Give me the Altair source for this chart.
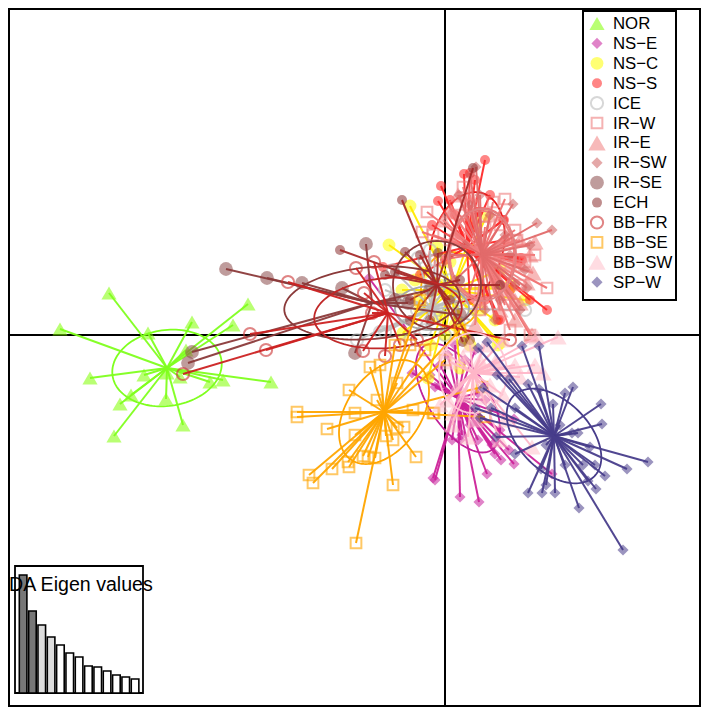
import math
import altair as alt
import pandas as pd

names = ["NOR","NS−E","NS−C","NS−S","ICE","IR−W","IR−E","IR−SW","IR−SE","ECH","BB−FR","BB−SE","BB−SW","SP−W"]
shapes = ["triangle-up","diamond","circle","circle","circle","square","triangle-up","diamond","circle","circle","circle","square","triangle-up","diamond"]
filled = [True,True,True,True,False,False,True,True,True,True,False,False,True,True]
sizes = [230,125,165,100,150,115,300,125,190,100,150,115,300,125]
line_col = ["#7FFF1E","#CC2299","#FFE800","#FF2A2A","#BEBEBE","#F07070","#F07F7F","#E26A6A","#8B3A3A","#A52A2A","#CC2222","#FFA500","#FFB6C8","#483D8B"]
pt_col = ["#7FFF00","#C71E9A","#FFFF00","#FF2020","#BEBEBE","#F08080","#F08080","#CD6060","#8B4A4A","#8B3030","#CC3333","#FFA500","#FFC0CB","#483D8B"]
ell_col = ["#7FFF1E","#C0209A","#FFB000","#E81818","#A8A8A8","#F07070","#F07F7F","#E08080","#8B3A3A","#8B3A3A","#C02828","#FFA500","#FFC6D4","#483D8B"]

centres = [(167,368),(458,398),(452,290),(467,247),(432,308),(482,253),(482,255),(482,255),(372,303),(437,285),(388,313),(384,412),(473,373),(554,436)]
# ellipse: semi-major, semi-minor, tilt (degrees, anticlockwise)
ell_a = [55,62,38,56,37,45,44,46,88,44,74,58,40,57]
ell_b = [38,30,31,36,22,33,32,34,36,44,35,37,34,35]
ell_t = [8,-57,90,75,0,90,90,90,5,0,5,55,90,-45]

x_pts = [
 [109,60,148,192,248,233,186,90,144,167,180,210,223,271,131,120,166,183,114],
 [435,433,460,479,487,514,501,495,509,552,460,514,369,412,435,478,440,470,485,500,440,478,448,455,465,430,475,492,452,462],
 [410,389,487,475,510,500,460,498,402,403,440,423,437,435,420,470,510,525,420,428,445,455,465,415,480,495,430,440,500,450],
 [485,464,470,441,438,432,478,504,521,547,522,500,503,383,518,477,475,498,510,450,460,490,530,445,495,470,420,505,485,455],
 [525,385,357,380,418,430,417,437,457,393,440,460,400,470,450,410,425,445,385,435],
 [427,422,433,493,505,515,517,463,485,547,510,530,495,525,470,505,450,440,520,500,460,480,535,470],
 [535,533,525,452,458,532,450,443,507,527,520,498,510,515,480,470,500,530,490,505,520,455,515,475],
 [552,537,513,476,459,527,465,490,510,515,520,450,500,470,470,525,505,485,455,495,530,480],
 [226,267,302,342,192,188,366,355,408,430,395,460],
 [340,402,473,405,395,463,438,420,450,460,500,430,410,410,470,385],
 [288,250,266,183,356,374,364,372,363,385,510,417,400],
 [297,297,349,327,355,370,380,377,397,355,386,393,404,397,416,393,356,309,313,332,349,348,363,368,375,434,413,433,485,482,410,425,395,445,460,420],
 [558,535,520,532,497,452,468,543,503,445,450,483,480,463,503,463,483,453,495,537,515,470,490,458,505,440,475,500,485,448],
 [522,539,487,478,497,509,528,539,573,565,553,601,602,515,491,475,496,560,578,572,546,590,515,648,627,605,596,583,595,565,541,546,528,542,555,579,623,588,483,480],
]
y_pts = [
 [293,329,333,322,304,325,350,378,375,373,377,382,380,382,395,404,399,425,436],
 [480,478,497,502,474,464,460,454,450,474,440,419,278,373,387,393,385,425,400,430,365,440,355,345,360,375,350,445,440,435],
 [206,245,215,222,288,343,368,345,290,333,317,273,247,290,310,345,285,300,300,378,335,325,338,280,310,320,345,285,270,262],
 [160,174,173,186,201,225,212,220,258,310,260,320,220,267,263,212,180,320,290,200,235,195,300,260,280,300,275,240,300,215],
 [310,332,340,332,258,250,310,310,297,270,280,300,300,320,280,340,330,335,290,260],
 [212,232,235,202,199,230,240,187,227,288,330,335,270,262,290,305,240,260,285,225,215,310,255,205],
 [242,273,265,212,195,335,210,220,237,283,303,255,265,300,300,195,310,255,215,290,240,235,320,325],
 [230,223,204,167,195,288,245,215,255,285,310,255,300,205,175,270,235,310,280,320,245,195],
 [269,278,283,288,352,363,244,353,303,290,300,315],
 [250,200,168,252,272,342,253,255,300,280,285,320,320,300,340,275],
 [282,334,350,374,268,262,293,313,351,356,340,340,345],
 [412,417,390,429,413,367,365,400,383,435,436,440,427,428,457,485,543,475,483,469,467,462,456,457,458,413,410,413,417,387,345,350,345,360,330,300],
 [337,365,377,447,362,425,437,373,395,352,362,367,360,357,340,395,397,413,362,337,365,345,385,385,420,405,420,440,345,400],
 [346,346,342,348,375,379,384,389,387,393,404,404,424,408,408,408,437,425,433,433,445,447,454,462,469,476,489,465,465,465,469,485,493,493,493,508,550,481,388,418],
]

leg_rows = list(range(14))
eig_vals = [118,82,68,56,48,40,36,27,26,22,18,16,14]
eig_fill = ["#777777","#777777","#DDDDDD","#DDDDDD","#FFFFFF","#FFFFFF","#FFFFFF","#FFFFFF","#FFFFFF","#FFFFFF","#FFFFFF","#FFFFFF","#FFFFFF"]

W = 693
H = 700
X = alt.X("x:Q", axis=None, scale=alt.Scale(domain=[8, 8 + W], range=[0, W]))
Y = alt.Y("y:Q", axis=None, scale=alt.Scale(domain=[8, 8 + H], range=[0, H]))

layers = []
# axes lines through the origin
axes = pd.DataFrame({"x":[445,9],"y":[9,335],"x2":[445,700],"y2":[706,335]})
layers.append(alt.Chart(axes).mark_rule(color="black", strokeWidth=2).encode(x=X, y=Y, x2="x2:Q", y2="y2:Q"))

for i in range(14):
    cx, cy = centres[i]
    pts = pd.DataFrame({"x":x_pts[i],"y":y_pts[i]})
    pts["x2"] = cx
    pts["y2"] = cy
    kw = dict(shape=shapes[i], size=sizes[i], color=pt_col[i])
    if filled[i]:
        kw.update(filled=True, opacity=0.55, strokeWidth=0)
    else:
        kw.update(filled=False, opacity=0.6, strokeWidth=2)
    layers.append(alt.Chart(pts).mark_point(**kw).encode(x=X, y=Y))
    layers.append(alt.Chart(pts).mark_rule(color=line_col[i], strokeWidth=2, opacity=0.95).encode(x=X, y=Y, x2="x2:Q", y2="y2:Q"))
    # inertia ellipse from its centre, radii and tilt
    a, b, t = ell_a[i], ell_b[i], math.radians(ell_t[i])
    rows = []
    for k in range(121):
        u = 2 * math.pi * k / 120
        ex = a * math.cos(u)
        ey = b * math.sin(u)
        rows.append({"x": cx + ex * math.cos(t) - ey * math.sin(t),
                     "y": cy - ex * math.sin(t) - ey * math.cos(t),
                     "k": k})
    layers.append(alt.Chart(pd.DataFrame(rows)).mark_line(color=ell_col[i], strokeWidth=1.8).encode(x=X, y=Y, order="k:Q"))

# frame
frame = pd.DataFrame({"x":[9],"y":[9],"x2":[700],"y2":[706]})
layers.append(alt.Chart(frame).mark_rect(fillOpacity=0, stroke="black", strokeWidth=2).encode(x=X, y=Y, x2="x2:Q", y2="y2:Q"))

# legend
box = pd.DataFrame({"x":[583],"y":[11],"x2":[676],"y2":[300]})
layers.append(alt.Chart(box).mark_rect(fill="white", stroke="black", strokeWidth=2).encode(x=X, y=Y, x2="x2:Q", y2="y2:Q"))
for r in leg_rows:
    ly = 23.5 + r * 19.9
    d = pd.DataFrame({"x":[597],"y":[ly],"t":[names[r]]})
    kw = dict(shape=shapes[r], size=sizes[r], color=pt_col[r])
    if filled[r]:
        kw.update(filled=True, opacity=0.55, strokeWidth=0)
    else:
        kw.update(filled=False, opacity=0.6, strokeWidth=2)
    layers.append(alt.Chart(d).mark_point(**kw).encode(x=X, y=Y))
    layers.append(alt.Chart(pd.DataFrame({"x":[613],"y":[ly+0.5],"t":[names[r]]})).mark_text(
        align="left", baseline="middle", font="Liberation Sans", fontSize=16.8, color="black").encode(x=X, y=Y, text="t:N"))

# inset: eigenvalues
inset = pd.DataFrame({"x":[15],"y":[566],"x2":[143],"y2":[693]})
layers.append(alt.Chart(inset).mark_rect(fill="white", stroke="black", strokeWidth=1.8).encode(x=X, y=Y, x2="x2:Q", y2="y2:Q"))
for j, h in enumerate(eig_vals):
    left = 19.3 + j * 9.33
    bar = pd.DataFrame({"x":[left],"x2":[left+7.6],"y":[693-h],"y2":[693]})
    layers.append(alt.Chart(bar).mark_rect(fill=eig_fill[j], stroke="black", strokeWidth=1.6).encode(x=X, y=Y, x2="x2:Q", y2="y2:Q"))
title = pd.DataFrame({"x":[9],"y":[591],"t":["DA Eigen values"]})
layers.append(alt.Chart(title).mark_text(align="left", baseline="alphabetic", font="Liberation Sans", fontSize=19.6, color="black").encode(x=X, y=Y, text="t:N"))

chart = alt.layer(*layers).properties(width=W, height=H, padding=0, background="white",
    autosize=alt.AutoSizeParams(type="none")).configure_view(stroke=None)
chart.save("out.html", embed_options={"renderer": "svg", "actions": False})
